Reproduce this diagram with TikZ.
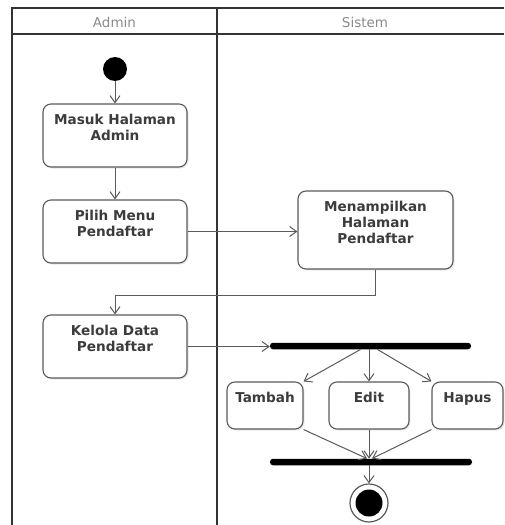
\documentclass[tikz,border=0pt]{standalone}
\usepackage{fontspec}
\setmainfont{DejaVu Sans}
\usetikzlibrary{arrows.meta,shadows}
\definecolor{lanecol}{HTML}{333333}
\definecolor{edgecol}{HTML}{5A5A5A}
\definecolor{txtcol}{HTML}{3C3C3C}
\definecolor{headcol}{HTML}{8A8A8A}
% first-line strut, a little taller so the label sits lower in its box
\newcommand{\topstrut}{\rule{0pt}{15pt}}
\begin{document}
\begin{tikzpicture}[x=1pt,y=-1pt,
  lane/.style={draw=lanecol,line width=1.8pt},
  head/.style={text=headcol,font=\fontsize{13.5}{15}\selectfont},
  actbox/.style={draw=edgecol,line width=1.1pt,rounded corners=8pt,fill=white,
    align=center,text=txtcol,inner sep=0pt,
    font=\bfseries\fontsize{13.6}{16}\selectfont,
    drop shadow={shadow xshift=1.5pt,shadow yshift=-1.5pt,opacity=0.18,fill=gray}},
  bar/.style={fill=black,rounded corners=3pt,minimum height=6.5pt,inner sep=0pt},
  flow/.style={draw=edgecol,line width=1pt,-{Straight Barb[length=7pt,width=10pt]}},
  startnode/.style={circle,fill=black,minimum size=24pt,inner sep=0pt},
  endnode/.style={circle,draw=edgecol,line width=1.2pt,fill=white,minimum size=38pt,inner sep=0pt}]
\useasboundingbox (0,0) rectangle (504,525);

% swimlane frame
\draw[lane] (12,525) -- (12,8) -- (504,8);
\draw[lane] (12,34) -- (504,34);
\draw[lane] (217,8) -- (217,525);
\node[head] (hadmin) at (114.5,22) {Admin};
\node[head] (hsistem) at (365,22) {Sistem};

% activities
\node[startnode] (start) at (115,69) {};
\node[actbox,minimum width=144pt,minimum height=63pt] (masuk) at (115,135.5)
  {\topstrut Masuk Halaman\\\strut Admin\\\strut};
\node[actbox,minimum width=144pt,minimum height=63pt] (pilih) at (115,231.5)
  {\topstrut Pilih Menu\\\strut Pendaftar\\\strut};
\node[actbox,minimum width=155pt,minimum height=78pt] (tampil) at (375.5,230)
  {\topstrut Menampilkan\\\strut Halaman\\\strut Pendaftar\\\strut};
\node[actbox,minimum width=144pt,minimum height=63pt] (kelola) at (115,346.5)
  {\topstrut Kelola Data\\\strut Pendaftar\\\strut};

\node[bar,minimum width=201pt] (fork) at (370.5,346) {};
\node[actbox,minimum width=76pt,minimum height=47pt] (tambah) at (265,405.5)
  {\topstrut Tambah\\\strut};
\node[actbox,minimum width=80pt,minimum height=47pt] (edit) at (369,405.5)
  {\topstrut Edit\\\strut};
\node[actbox,minimum width=71pt,minimum height=47pt] (hapus) at (467.5,405.5)
  {\topstrut Hapus\\\strut};
\node[bar,minimum width=202pt] (join) at (371,462) {};
\node[endnode] (end) at (369,503) {};
\fill (end.center) circle (13.5pt);

% control flow
\draw[flow] (start) -- (masuk.north);
\draw[flow] (masuk) -- (pilih.north);
\draw[flow] (pilih.east) -- (pilih.east -| tampil.west);
\draw[flow] (tampil.south) -- ++(0,26) -| (kelola.north);
\draw[flow] (kelola.east) -- (kelola.east -| fork.west);
\draw[flow] ([xshift=-10pt]fork.south) -- (tambah.north east);
\draw[flow] (fork.south -| edit.north) -- (edit.north);
\draw[flow] ([xshift=7pt]fork.south) -- (hapus.north west);
\draw[flow] (tambah.south east) -- ([xshift=-4pt]join.north);
\draw[flow] (edit.south) -- (join.north -| edit.south);
\draw[flow] (hapus.south west) -- ([xshift=1pt]join.north);
\draw[flow] (join.south -| end.north) -- (end.north);
\end{tikzpicture}
\end{document}
